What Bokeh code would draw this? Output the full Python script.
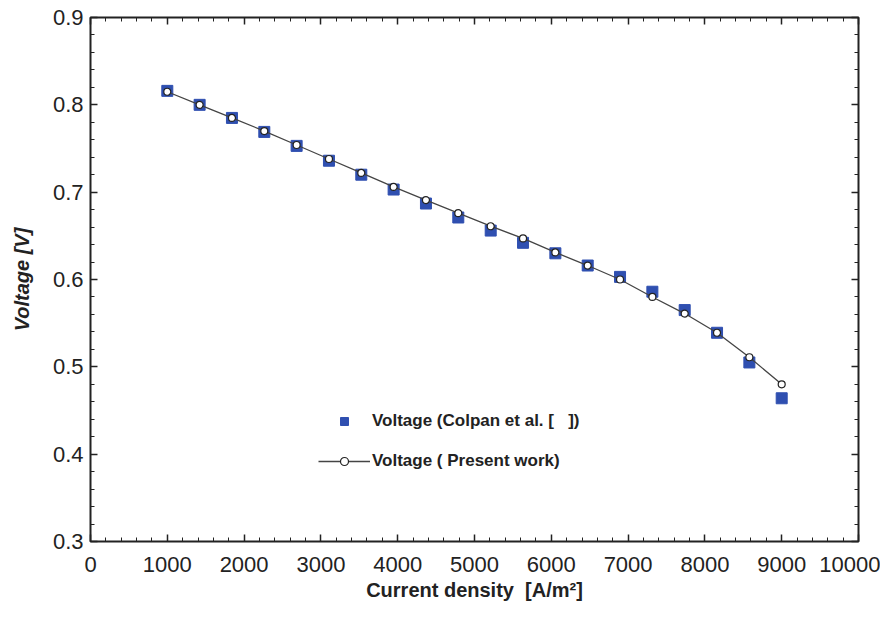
from bokeh.plotting import figure
from bokeh.models import LinearAxis, SingleIntervalTicker, Range1d, Legend, LegendItem, CustomJSTickFormatter
from bokeh.embed import file_html
from bokeh.resources import INLINE

current = [1000, 1421, 1842, 2263, 2684, 3105, 3526, 3947, 4368, 4789,
           5211, 5632, 6053, 6474, 6895, 7316, 7737, 8158, 8579, 9000]
v_colpan = [0.816, 0.800, 0.785, 0.769, 0.753, 0.736, 0.720, 0.703, 0.687, 0.671,
            0.656, 0.642, 0.630, 0.616, 0.603, 0.586, 0.565, 0.539, 0.505, 0.464]
v_present = [0.815, 0.800, 0.785, 0.770, 0.754, 0.738, 0.722, 0.706, 0.691, 0.676,
             0.661, 0.647, 0.631, 0.616, 0.600, 0.580, 0.561, 0.539, 0.511, 0.480]

FONT = "Liberation Sans"

p = figure(width=880, height=603, output_backend="svg", toolbar_location=None,
           x_range=Range1d(0, 10000), y_range=Range1d(0.3, 0.9),
           min_border_left=90, min_border_right=22, min_border_top=17, min_border_bottom=62)
p.xgrid.visible = False
p.ygrid.visible = False
p.outline_line_color = "#222222"
p.outline_line_width = 2
p.background_fill_color = "white"
p.border_fill_color = "white"

xt = SingleIntervalTicker(interval=1000, num_minor_ticks=5)
yt = SingleIntervalTicker(interval=0.1, num_minor_ticks=5)
p.xaxis.ticker = xt
p.yaxis.ticker = yt

for ax in (p.xaxis[0], p.yaxis[0]):
    ax.axis_line_color = None
    ax.major_tick_in = 7
    ax.major_tick_out = 0
    ax.minor_tick_in = 4
    ax.minor_tick_out = 0
    ax.major_tick_line_color = "#222222"
    ax.minor_tick_line_color = "#222222"
    ax.major_tick_line_width = 1.5
    ax.major_label_text_font = FONT
    ax.major_label_text_font_size = "22px"
    ax.major_label_text_color = "#222222"
    ax.axis_label_text_font = FONT
    ax.axis_label_text_font_size = "20px"
    ax.axis_label_text_font_style = "bold"
    ax.axis_label_text_color = "#222222"

p.xaxis.major_label_standoff = 15
p.yaxis.major_label_standoff = 7
p.xaxis.axis_label = "Current density\u00a0\u00a0[A/m\u00b2]"
p.yaxis.axis_label = "Voltage [V]"
p.yaxis.axis_label_text_font_style = "bold italic"
p.xaxis.axis_label_standoff = 4
p.yaxis.axis_label_standoff = 17

blank = CustomJSTickFormatter(code="return ''")
for loc, tk in (("above", xt), ("right", yt)):
    ax = LinearAxis(ticker=tk, axis_line_color=None, formatter=blank,
                    major_label_text_font_size="1px", major_label_standoff=0,
                    major_tick_in=7, major_tick_out=0, minor_tick_in=4, minor_tick_out=0,
                    major_tick_line_color="#222222", minor_tick_line_color="#222222",
                    major_tick_line_width=1.5)
    p.add_layout(ax, loc)

sq = p.scatter(current, v_colpan, marker="square", size=11, fill_color="#2F4FB0",
               line_color="#2F4FB0")
ln = p.line(current, v_present, line_color="#444444", line_width=1.3)
ci = p.scatter(current, v_present, marker="circle", size=7, fill_color="white",
               line_color="#222222", line_width=1.2)

legend = Legend(items=[LegendItem(label="Voltage (Colpan et al. [\u00a0\u00a0\u00a0])", renderers=[sq]),
                       LegendItem(label="Voltage (\u00a0Present work)", renderers=[ln, ci])],
                location=(228, 70), background_fill_alpha=0, border_line_color=None,
                glyph_width=52, glyph_height=20, label_standoff=2, spacing=20,
                label_text_font=FONT, label_text_font_size="17px",
                label_text_font_style="bold", label_text_color="#222222",
                padding=0, margin=0)
p.add_layout(legend, "center")

open("out.html", "w").write(file_html(p, INLINE))
